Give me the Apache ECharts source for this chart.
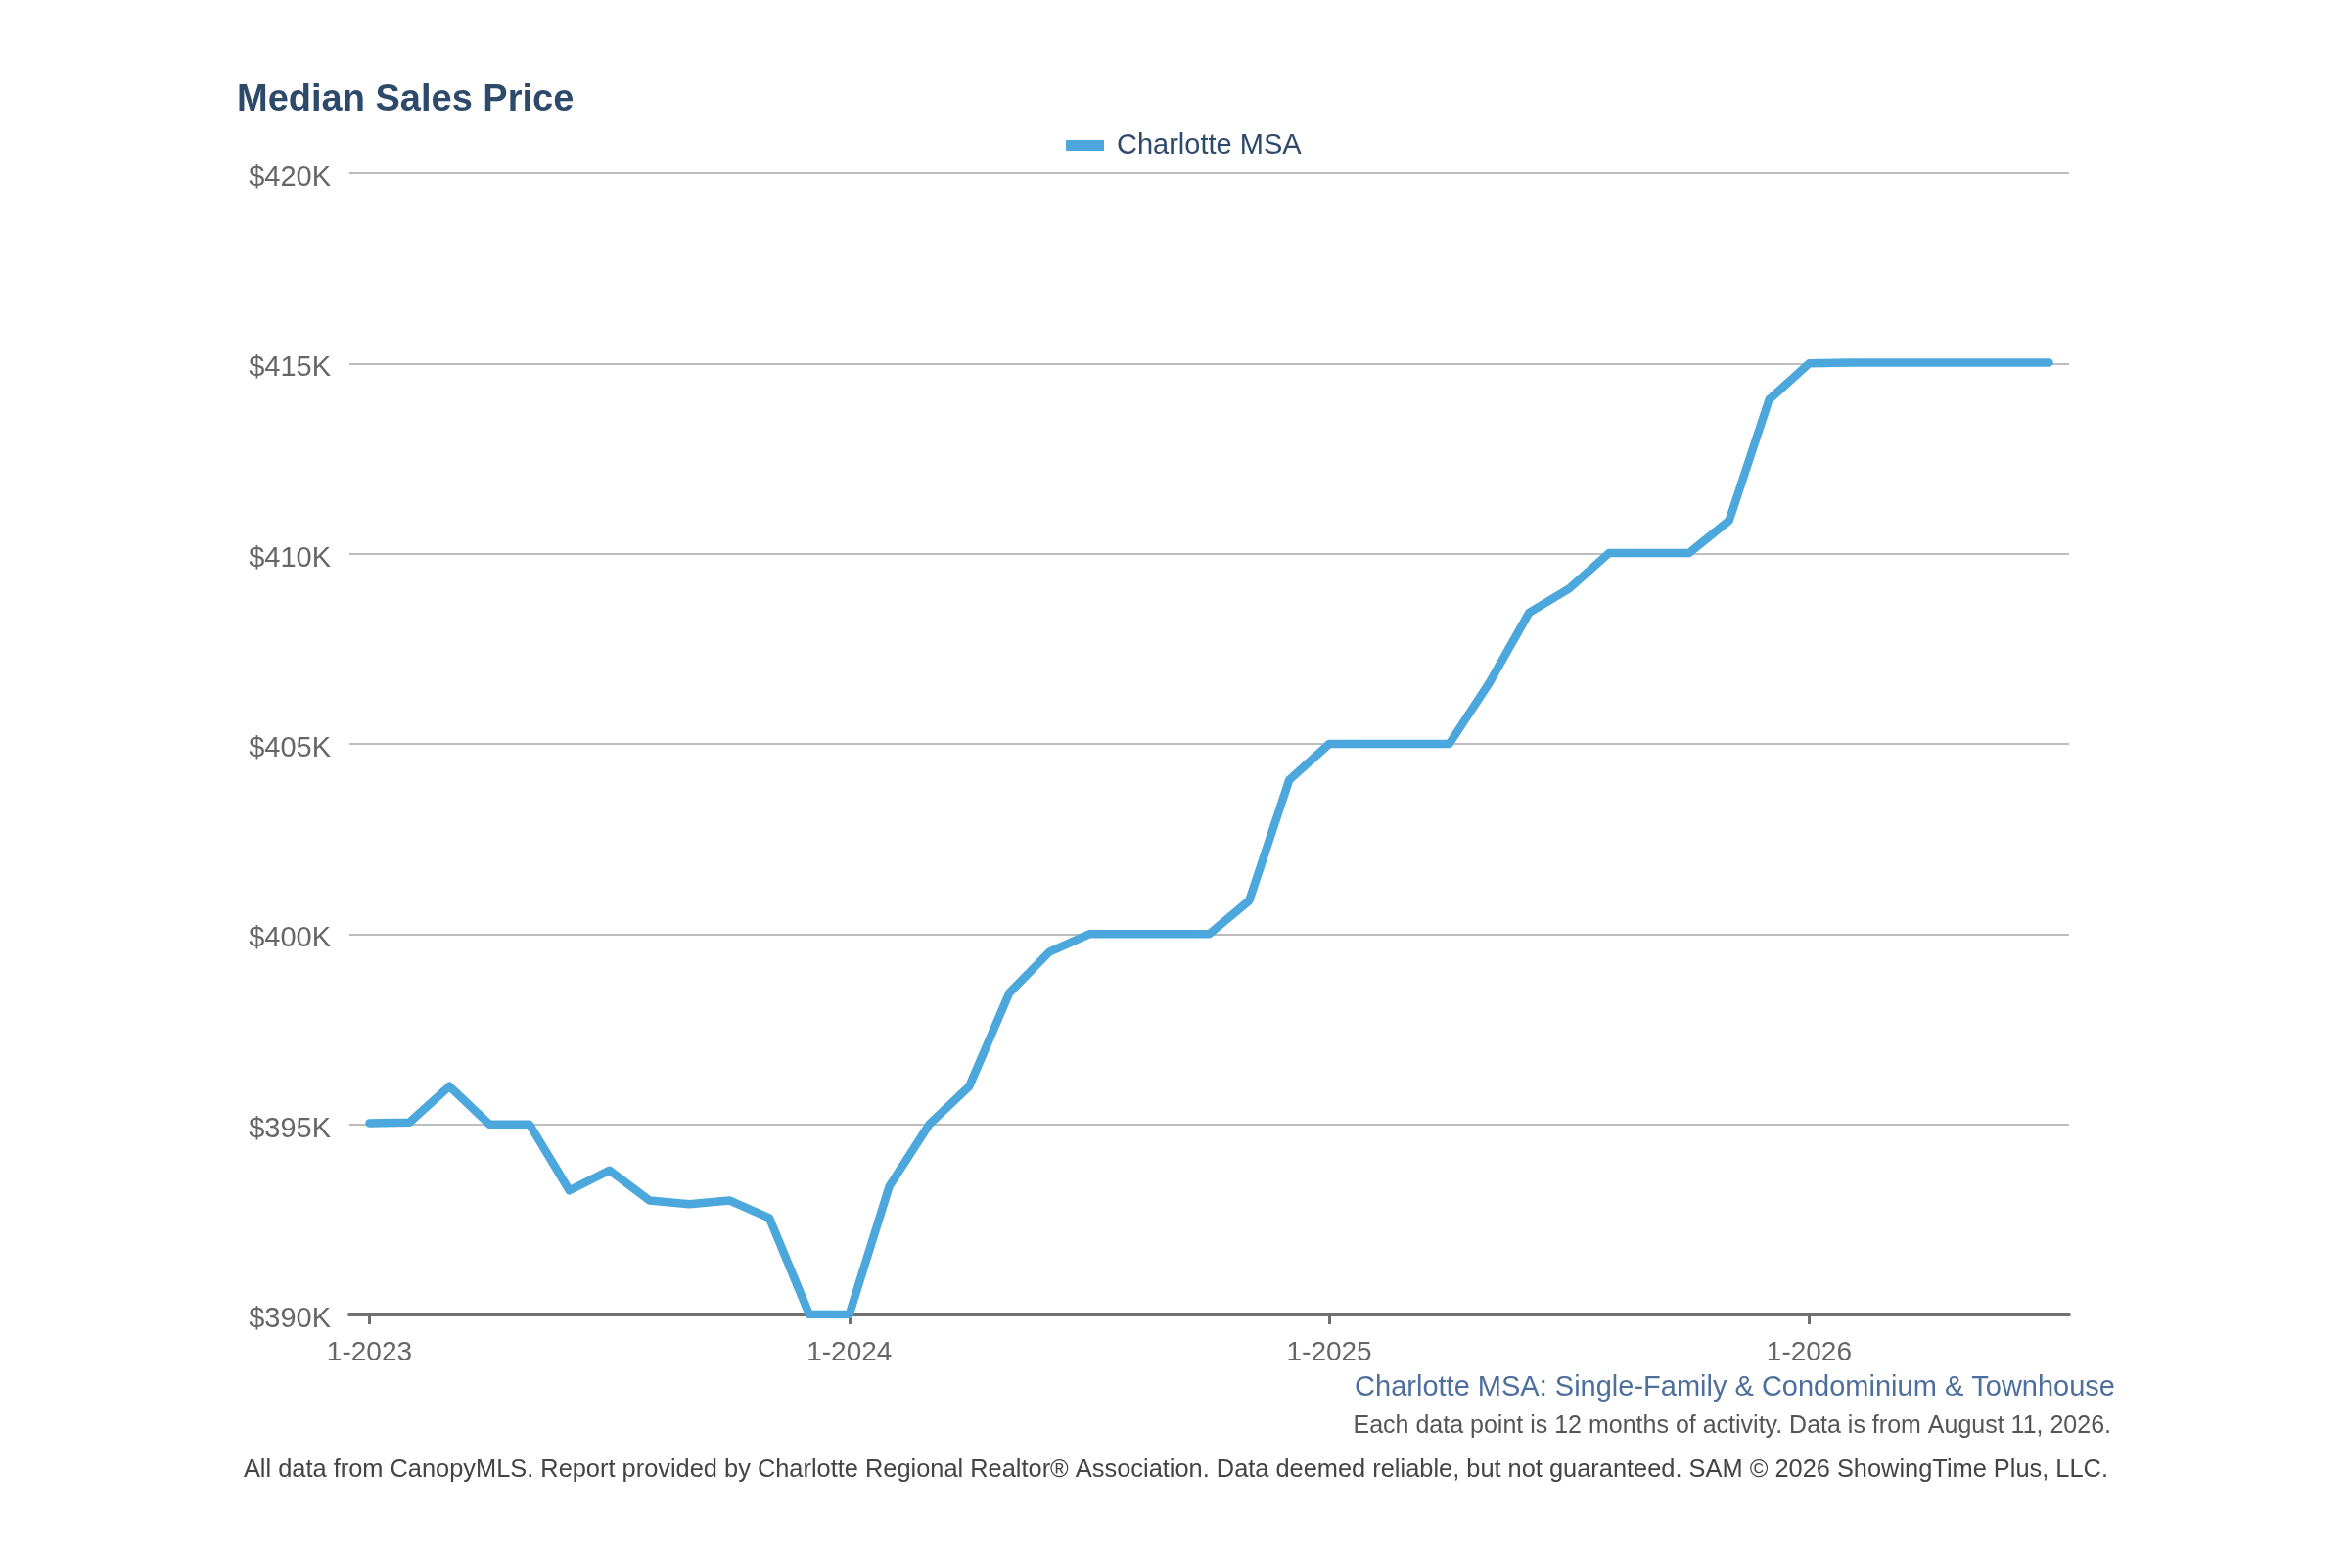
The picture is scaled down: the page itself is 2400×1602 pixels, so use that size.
<!DOCTYPE html>
<html>
<head>
<meta charset="utf-8">
<title>Median Sales Price</title>
<script src="https://cdn.jsdelivr.net/npm/echarts@6/dist/echarts.min.js"></script>
<style>
  html, body { margin: 0; padding: 0; background: #fff; }
  #chart { width: 2400px; height: 1602px; }
</style>
</head>
<body>
<div id="chart"></div>
<script>
const FONT = '"Liberation Sans", Arial, Helvetica, sans-serif';

// months shown on the category axis, 1-2023 .. 7-2026
const months = [
  '1-2023', '2-2023', '3-2023', '4-2023', '5-2023', '6-2023', '7-2023', '8-2023', '9-2023', '10-2023', '11-2023', '12-2023',
  '1-2024', '2-2024', '3-2024', '4-2024', '5-2024', '6-2024', '7-2024', '8-2024', '9-2024', '10-2024', '11-2024', '12-2024',
  '1-2025', '2-2025', '3-2025', '4-2025', '5-2025', '6-2025', '7-2025', '8-2025', '9-2025', '10-2025', '11-2025', '12-2025',
  '1-2026', '2-2026', '3-2026', '4-2026', '5-2026', '6-2026', '7-2026'
];

// rolling 12-month median sales price, in dollars
const charlotteMSA = [
  395030, 395050, 396000, 395000, 395000, 393260, 393790, 393000, 392900, 393000, 392540, 390000,
  390000, 393370, 395000, 396000, 398450, 399530, 400000, 400000, 400000, 400000, 400880, 404050,
  405000, 405000, 405000, 405000, 406600, 408450, 409080, 410020, 410020, 410020, 410870, 414050,
  415000, 415020, 415020, 415020, 415020, 415020, 415020
];

const yMin = 390000;
const yMax = 420000;
const yStep = 5000;

const seriesName = 'Charlotte MSA';
const titleText = 'Median Sales Price';
const footSeries = 'Charlotte MSA: Single-Family & Condominium & Townhouse';
const footNote = 'Each data point is 12 months of activity. Data is from August 11, 2026.';
const footSource = 'All data from CanopyMLS. Report provided by Charlotte Regional Realtor\u00ae Association. Data deemed reliable, but not guaranteed. SAM \u00a9 2026 ShowingTime Plus, LLC.';

const isJanuary = (idx, label) => label.indexOf('1-') === 0;

const chart = echarts.init(document.getElementById('chart'));

chart.setOption({
  backgroundColor: '#ffffff',
  animation: false,
  textStyle: { fontFamily: FONT },
  title: {
    text: titleText,
    left: 237,
    top: 79,
    textStyle: { fontFamily: FONT, fontSize: 38, fontWeight: 'bold', color: '#2e4a6b' }
  },
  legend: {
    data: [{ name: seriesName, icon: 'rect' }],
    left: 1084,
    top: 129,
    itemWidth: 39,
    itemHeight: 11,
    textStyle: { fontFamily: FONT, fontSize: 29, color: '#2e4a6b', padding: [0, 0, 0, 8] }
  },
  grid: { left: 357, right: 286, top: 177, bottom: 259, containLabel: false },
  xAxis: {
    type: 'category',
    data: months,
    boundaryGap: true,
    axisLine: { show: true, lineStyle: { color: '#707070', width: 4 } },
    axisTick: {
      show: true,
      alignWithLabel: true,
      interval: isJanuary,
      length: 10,
      lineStyle: { color: '#707070', width: 3 }
    },
    axisLabel: {
      interval: isJanuary,
      margin: 25,
      fontFamily: FONT,
      fontSize: 28,
      color: '#666666'
    },
    splitLine: { show: false }
  },
  yAxis: {
    type: 'value',
    min: yMin,
    max: yMax,
    interval: yStep,
    axisLine: { show: false },
    axisTick: { show: false },
    axisLabel: {
      margin: 19,
      formatter: v => '{p|$' + Math.round(v / 1000) + 'K}',
      rich: {
        p: {
          fontFamily: FONT,
          fontSize: 29,
          color: '#666666',
          padding: [10, 0, 0, 0]
        }
      }
    },
    splitLine: { show: true, lineStyle: { color: '#bdbdbd', width: 2 } }
  },
  series: [{
    name: seriesName,
    type: 'line',
    data: charlotteMSA,
    symbol: 'none',
    smooth: false,
    clip: true,
    lineStyle: { color: '#4ca8dc', width: 8.5, cap: 'round', join: 'round' },
    itemStyle: { color: '#4ca8dc' }
  }],
  graphic: [
    {
      type: 'text',
      style: {
        x: 2161, y: 1418, text: footSeries, align: 'right', verticalAlign: 'middle',
        fontFamily: FONT, fontSize: 29, fill: '#4d6f9c'
      }
    },
    {
      type: 'text',
      style: {
        x: 2157, y: 1457, text: footNote, align: 'right', verticalAlign: 'middle',
        fontFamily: FONT, fontSize: 25, fill: '#555555'
      }
    },
    {
      type: 'text',
      style: {
        x: 2154, y: 1502, text: footSource, align: 'right', verticalAlign: 'middle',
        fontFamily: FONT, fontSize: 25.4, fill: '#444444'
      }
    }
  ]
});
</script>
</body>
</html>
